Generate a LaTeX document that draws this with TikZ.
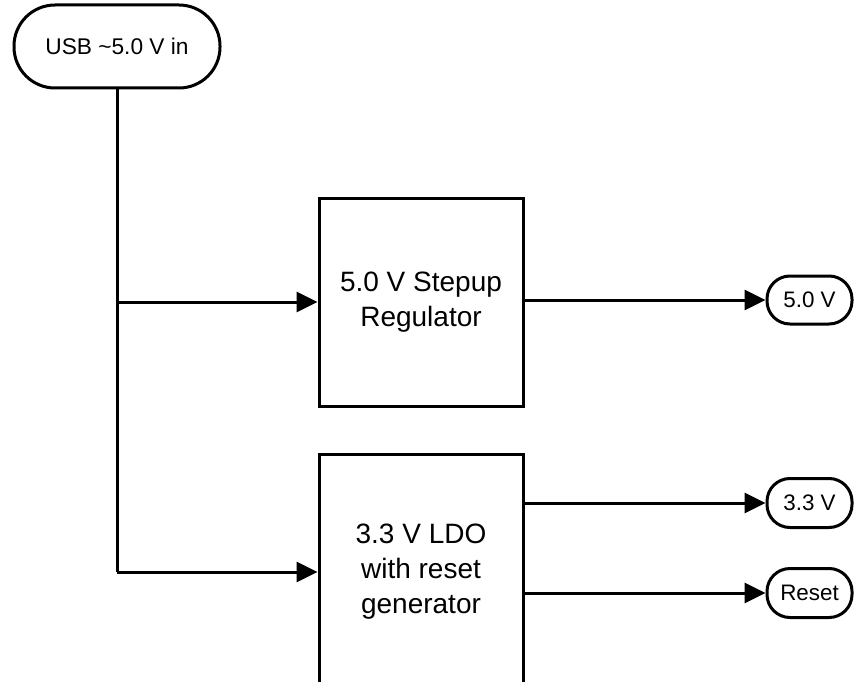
\documentclass[tikz,border=0pt]{standalone}
\usepackage{fontspec}
\setmainfont{Liberation Sans}
\usetikzlibrary{arrows.meta}
\begin{document}
\begin{tikzpicture}[x=1pt,y=-1pt,
  line width=3pt,
  pill/.style={draw, rectangle, inner sep=0pt, align=center},
  blockbox/.style={draw, rectangle, inner sep=0pt, align=center,
    minimum width=204pt, font=\fontsize{28}{35}\selectfont},
  arr/.style={-{Triangle[length=21pt,width=20pt]}},
]
\useasboundingbox (0,0) rectangle (854,682);
\node[pill, minimum width=206pt, minimum height=83pt, rounded corners=41pt,
      font=\fontsize{22.7}{27}\selectfont] (usb) at (117,46.5) {USB \textasciitilde5.0 V in};
\node[blockbox, minimum height=208pt] (stepup) at (421,302) {5.0 V Stepup\\Regulator};
\node[blockbox, minimum height=240pt, text depth=10pt] (ldo) at (421,574) {3.3 V LDO\\with reset\\generator};
\node[pill, minimum width=85pt, minimum height=48pt, rounded corners=23pt,
      font=\fontsize{22.4}{27}\selectfont] (out5) at (809.5,300) {5.0 V};
\node[pill, minimum width=85pt, minimum height=49pt, rounded corners=23pt,
      font=\fontsize{22.4}{27}\selectfont] (out33) at (809.5,503) {3.3 V};
\node[pill, minimum width=85pt, minimum height=49pt, rounded corners=23pt,
      font=\fontsize{22.4}{27}\selectfont] (reset) at (809.5,593) {Reset};
\coordinate (j1) at (117,302);
\coordinate (j2) at (117,572);
\draw (usb.south) -- (j2);
\draw[arr] (j1) -- (j1 -| stepup.west);
\draw[arr] (j2) -- (j2 -| ldo.west);
\draw[arr] (stepup.east |- out5.west) -- (out5.west);
\draw[arr] (ldo.east |- out33.west) -- (out33.west);
\draw[arr] (ldo.east |- reset.west) -- (reset.west);
\end{tikzpicture}
\end{document}
